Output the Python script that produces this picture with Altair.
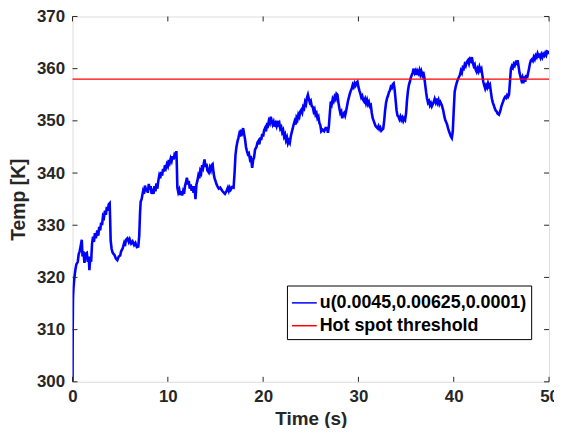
import altair as alt
import pandas as pd

# (time s, temperature K), split by decade
SEG_00_10 = [
    (0, 300), (0.02, 310), (0.05, 316), (0.1, 318), (0.2, 320), (0.3, 321.5), (0.4, 322.5),
    (0.55, 323), (0.65, 324.5), (0.75, 325), (0.85, 326), (0.97, 327.2), (1.05, 324), (1.15, 325),
    (1.25, 322.8), (1.35, 324.5), (1.5, 324.7), (1.6, 323), (1.7, 324), (1.77, 321.4), (1.85, 323.5),
    (1.95, 323), (2.05, 326.5), (2.15, 327.8), (2.25, 326.8), (2.35, 328.5), (2.45, 327.5), (2.6, 329),
    (2.7, 328), (2.8, 329.7), (2.9, 329), (3.0, 330.5), (3.1, 330), (3.2, 331.8), (3.3, 331.5),
    (3.4, 332.8), (3.5, 332), (3.6, 333.5), (3.7, 332.8), (3.8, 334), (3.9, 334.2), (3.95, 331),
    (4.0, 327.1), (4.1, 325.5), (4.2, 324.8), (4.3, 324.5), (4.4, 324.3), (4.55, 323.6), (4.7, 323.3),
    (4.85, 324), (5.0, 324.2), (5.1, 325), (5.25, 325.5), (5.4, 326.5), (5.5, 326), (5.6, 327.2),
    (5.76, 327.5), (5.9, 326.8), (6.0, 327.3), (6.15, 326.5), (6.3, 326.9), (6.46, 326.2), (6.6, 326.6),
    (6.75, 325.8), (6.9, 325.9), (7.0, 328), (7.08, 332.2), (7.15, 334.5), (7.25, 335), (7.4, 336.5),
    (7.5, 336), (7.6, 337.6), (7.7, 336.5), (7.8, 337.2), (7.9, 336.2), (8.0, 337.9), (8.1, 336.8),
    (8.2, 337.5), (8.3, 336), (8.4, 337), (8.5, 336), (8.6, 337.5), (8.7, 336.5), (8.8, 338),
    (8.9, 337), (9.0, 338.5), (9.1, 339.5), (9.2, 339), (9.3, 340.2), (9.4, 339.5), (9.5, 340.8),
    (9.6, 340.3), (9.7, 341.5), (9.8, 341), (9.9, 341.7),
]
SEG_10_20 = [
    (10.0, 341.3), (10.1, 342.5), (10.2, 342), (10.3, 342.8), (10.4, 342.3), (10.5, 343.2),
    (10.6, 342.6), (10.7, 343.5), (10.8, 343.2), (10.9, 344.2), (10.95, 341), (11.0, 337.2),
    (11.1, 336.3), (11.2, 336.8), (11.3, 335.8), (11.4, 336.5), (11.5, 335.7), (11.6, 336.5),
    (11.7, 336), (11.8, 337.5), (11.9, 338.2), (12.0, 339.1), (12.1, 337.8), (12.2, 338.5),
    (12.3, 337), (12.4, 337.8), (12.5, 336.6), (12.6, 337.5), (12.7, 336.2), (12.8, 337.5),
    (12.9, 335), (13.0, 337.8), (13.1, 338.5), (13.2, 339.5), (13.3, 339), (13.4, 340.4),
    (13.5, 340), (13.6, 341.5), (13.7, 341), (13.85, 342.6), (13.95, 341.2), (14.05, 341.8),
    (14.15, 340.5), (14.3, 340.1), (14.4, 341), (14.5, 340.5), (14.6, 341.5), (14.7, 341.7),
    (14.8, 340), (14.9, 339), (15.0, 338.5), (15.1, 337.9), (15.2, 337.5), (15.35, 337),
    (15.5, 337.2), (15.7, 336.6), (15.85, 336.3), (16.0, 336), (16.15, 336.5), (16.3, 337.2),
    (16.4, 336.6), (16.5, 337.2), (16.6, 336.8), (16.75, 337.3), (16.9, 337.2), (17.0, 340),
    (17.1, 343.5), (17.2, 345), (17.3, 346), (17.4, 346.7), (17.5, 347.5), (17.6, 347),
    (17.7, 348.3), (17.8, 347.8), (17.9, 348.6), (18.0, 347.5), (18.1, 346.5), (18.2, 345),
    (18.3, 344.2), (18.4, 343.6), (18.5, 343.8), (18.6, 342.8), (18.7, 343.3), (18.85, 341.0),
    (18.95, 342.5), (19.05, 343), (19.15, 344.5), (19.3, 345), (19.4, 345.8), (19.5, 346.1),
    (19.6, 345.5), (19.7, 346.8), (19.8, 346.3), (19.9, 347.5),
]
SEG_20_30 = [
    (20.0, 347), (20.1, 348.2), (20.2, 348.6), (20.3, 348), (20.4, 349.2), (20.5, 349),
    (20.6, 350), (20.7, 349.6), (20.8, 350.8), (20.9, 350), (21.0, 349.3), (21.1, 349.8),
    (21.2, 348.9), (21.3, 349.5), (21.4, 349), (21.5, 350), (21.6, 349.3), (21.7, 349.6),
    (21.8, 348.5), (21.9, 348.8), (22.0, 347.8), (22.1, 348.2), (22.2, 347), (22.3, 347.4),
    (22.4, 346.3), (22.5, 346.8), (22.6, 345.7), (22.7, 346.2), (22.8, 345.8), (22.9, 347),
    (23.0, 347.8), (23.1, 348.5), (23.2, 349.3), (23.3, 349.9), (23.4, 349.3), (23.5, 350.6),
    (23.6, 350.2), (23.7, 351.2), (23.8, 350.8), (23.9, 351.8), (24.0, 352.1), (24.1, 351.6),
    (24.2, 352.7), (24.3, 352.4), (24.4, 353.6), (24.5, 353.2), (24.6, 354.4), (24.7, 355),
    (24.8, 354.2), (24.9, 353.5), (25.0, 353.8), (25.1, 352.8), (25.2, 352.7), (25.3, 351.8),
    (25.4, 352.2), (25.5, 351.2), (25.6, 351.5), (25.7, 350.5), (25.8, 350.8), (25.9, 349.6),
    (26.0, 349.2), (26.1, 348), (26.25, 348.3), (26.4, 348), (26.55, 348.6), (26.7, 348.6),
    (26.8, 347.7), (26.9, 349), (27.0, 351.5), (27.1, 353.7), (27.2, 353.2), (27.3, 354.2),
    (27.4, 353.8), (27.5, 354.6), (27.6, 354.2), (27.7, 355.2), (27.8, 355), (27.9, 353.5),
    (28.0, 352.4), (28.1, 351.5), (28.2, 351.8), (28.3, 350.5), (28.4, 351.2), (28.5, 351.5),
    (28.6, 351), (28.7, 351.8), (28.8, 352.8), (28.9, 353.8), (29.0, 354.5), (29.1, 355.2),
    (29.2, 355.8), (29.3, 356.2), (29.4, 356.9), (29.5, 356.5), (29.6, 357.2), (29.7, 356.8),
    (29.8, 357.3), (29.9, 357.5),
]
SEG_30_40 = [
    (30.0, 356.5), (30.1, 355.8), (30.2, 355.2), (30.3, 354.5), (30.4, 354.8), (30.5, 354),
    (30.6, 353.7), (30.7, 354.2), (30.8, 353.4), (30.9, 354), (31.0, 353.2), (31.1, 353.6),
    (31.2, 352.8), (31.3, 353), (31.4, 351.5), (31.5, 350.5), (31.6, 350), (31.7, 349.5),
    (31.8, 349), (31.9, 348.8), (32.0, 348.6), (32.1, 349), (32.2, 348.4), (32.3, 348.7),
    (32.4, 348.1), (32.5, 348.3), (32.6, 348.5), (32.7, 350), (32.8, 352), (32.9, 353.5),
    (33.0, 354.3), (33.1, 354.8), (33.2, 355.5), (33.3, 355.8), (33.4, 356.5), (33.5, 356.3),
    (33.6, 357), (33.7, 357.2), (33.8, 356), (33.9, 354), (34.0, 352), (34.1, 351),
    (34.2, 350.8), (34.3, 350.3), (34.4, 350.8), (34.5, 350.2), (34.6, 350.6), (34.7, 350),
    (34.8, 350.5), (34.9, 350.2), (35.0, 351.5), (35.1, 354), (35.2, 355.8), (35.3, 356.9),
    (35.4, 357.5), (35.5, 358.3), (35.6, 358.8), (35.7, 359.3), (35.8, 360), (35.9, 359.2),
    (36.0, 359.6), (36.1, 358.8), (36.2, 359.5), (36.3, 359.1), (36.4, 359.7), (36.5, 358.9),
    (36.6, 359.5), (36.7, 358.8), (36.8, 359.4), (36.9, 358.5), (37.0, 357), (37.1, 355.5),
    (37.2, 354.3), (37.3, 353.5), (37.4, 353.8), (37.5, 353), (37.6, 353.4), (37.7, 352.8),
    (37.8, 353.2), (37.9, 353.6), (38.0, 354.2), (38.1, 353.6), (38.2, 354.3), (38.3, 353.5),
    (38.4, 354), (38.5, 353.2), (38.6, 353.6), (38.75, 353), (38.9, 352), (39.0, 351),
    (39.1, 350.2), (39.2, 349.8), (39.3, 349.3), (39.4, 348.6), (39.5, 348), (39.6, 347.5),
    (39.7, 347), (39.8, 346.7), (39.9, 348),
]
SEG_40_50 = [
    (40.0, 352), (40.1, 355.6), (40.2, 356.5), (40.3, 357.2), (40.4, 357.8), (40.5, 358.2),
    (40.65, 358.8), (40.75, 359.6), (40.85, 359.2), (40.95, 360.2), (41.05, 360), (41.15, 360.8),
    (41.25, 360.5), (41.35, 361.2), (41.5, 361.6), (41.6, 361), (41.7, 361.8), (41.8, 361.5),
    (41.9, 362.2), (42.0, 361.2), (42.1, 360.5), (42.2, 360.8), (42.3, 359.8), (42.4, 359.4),
    (42.5, 360), (42.6, 359.5), (42.7, 360.3), (42.8, 359.7), (42.9, 360), (43.0, 358.8),
    (43.1, 357.5), (43.2, 356.8), (43.3, 356.2), (43.4, 356.8), (43.5, 356.4), (43.6, 357.2),
    (43.7, 356.6), (43.8, 356.9), (43.9, 355.5), (44.0, 354.3), (44.1, 353.5), (44.2, 353),
    (44.3, 352.4), (44.4, 352), (44.5, 351.8), (44.6, 351.4), (44.75, 351.2), (44.9, 352),
    (45.0, 352.8), (45.1, 353.3), (45.2, 353.8), (45.3, 354.3), (45.4, 354.6), (45.5, 354.4),
    (45.6, 354.9), (45.7, 354.6), (45.8, 355), (45.9, 357.5), (46.0, 360), (46.1, 360.5),
    (46.2, 360.2), (46.3, 360.9), (46.4, 360.6), (46.5, 361.2), (46.6, 361), (46.7, 361.6),
    (46.8, 360.5), (46.9, 359.2), (47.0, 358.5), (47.1, 357.8), (47.2, 358.3), (47.3, 357.2),
    (47.4, 358.5), (47.5, 357.5), (47.6, 358.8), (47.7, 358.2), (47.8, 359.1), (47.9, 360),
    (48.0, 361), (48.1, 361.6), (48.2, 361.8), (48.3, 361.5), (48.4, 362.2), (48.5, 361.8),
    (48.6, 362.5), (48.7, 362.2), (48.8, 362.9), (48.9, 362.4), (49.0, 362.6), (49.1, 362.1),
    (49.2, 362.7), (49.3, 362.2), (49.4, 362.8), (49.5, 362.5), (49.6, 363), (49.7, 362.6),
    (49.8, 363.3), (49.9, 363.2), (50.0, 362.8),
]

SERIES_NAMES = ["u(0.0045,0.00625,0.0001)", "Hot spot threshold"]
SERIES_COLORS = ["#0000FF", "#FF0000"]
THRESHOLD = [358]
X_TICKS = [0, 10, 20, 30, 40, 50]
Y_TICKS = [300, 310, 320, 330, 340, 350, 360, 370]

points = SEG_00_10 + SEG_10_20 + SEG_20_30 + SEG_30_40 + SEG_40_50
line_df = pd.DataFrame(points, columns=["t", "temp"])
line_df["series"] = SERIES_NAMES[0]
line_df["order"] = range(len(line_df))
thr_df = pd.DataFrame({"temp": THRESHOLD, "series": [SERIES_NAMES[1]]})
xt_df = pd.DataFrame({"t": X_TICKS})
yt_df = pd.DataFrame({"temp": Y_TICKS})

FONT = "Liberation Sans"
TXT = "#262626"

xscale = alt.Scale(domain=[0, 50], nice=False, zero=False)
yscale = alt.Scale(domain=[300, 370], nice=False, zero=False)
color = alt.Color(
    "series:N",
    scale=alt.Scale(domain=SERIES_NAMES, range=SERIES_COLORS),
    sort=SERIES_NAMES,
    legend=alt.Legend(
        title=None, orient="none", legendX=216, legendY=271,
        symbolType="stroke", symbolSize=625, symbolStrokeWidth=1.5,
        labelFont=FONT, labelFontWeight="bold", labelFontSize=18, labelColor="#000000",
        fillColor="white", strokeColor="#000000", padding=4, rowPadding=-3,
        labelOffset=2, labelLimit=400, symbolOffset=0,
    ),
)

xaxis = alt.Axis(
    values=X_TICKS, title="Time (s)", ticks=False, domain=False, grid=False,
    labelFont=FONT, labelFontWeight="bold", labelFontSize=17, labelColor=TXT, labelPadding=7,
    titleFont=FONT, titleFontWeight="bold", titleFontSize=19, titleColor=TXT, titlePadding=5,
    labelFlush=False,
)
yaxis = alt.Axis(
    values=Y_TICKS, title="Temp [K]", ticks=False, domain=False, grid=False,
    labelFont=FONT, labelFontWeight="bold", labelFontSize=17, labelColor=TXT, labelPadding=8,
    titleFont=FONT, titleFontWeight="bold", titleFontSize=19.5, titleColor=TXT, titlePadding=8,
    labelFlush=False,
)

line = alt.Chart(line_df).mark_line(strokeWidth=2.6, clip=True).encode(
    x=alt.X("t:Q", scale=xscale, axis=xaxis),
    y=alt.Y("temp:Q", scale=yscale, axis=yaxis),
    order="order:Q",
    color=color,
)
thr = alt.Chart(thr_df).mark_rule(strokeWidth=1.3).encode(
    y=alt.Y("temp:Q", scale=yscale),
    color=color,
)

tick_style = dict(color=TXT, strokeWidth=1)
xt_bottom = alt.Chart(xt_df).mark_rule(**tick_style).encode(
    x=alt.X("t:Q", scale=xscale), y=alt.value(368), y2=alt.value(363))
xt_top = alt.Chart(xt_df).mark_rule(**tick_style).encode(
    x=alt.X("t:Q", scale=xscale), y=alt.value(0), y2=alt.value(5))
yt_left = alt.Chart(yt_df).mark_rule(**tick_style).encode(
    y=alt.Y("temp:Q", scale=yscale), x=alt.value(0), x2=alt.value(5))
yt_right = alt.Chart(yt_df).mark_rule(**tick_style).encode(
    y=alt.Y("temp:Q", scale=yscale), x=alt.value(480), x2=alt.value(475))

chart = alt.layer(line, thr, xt_bottom, xt_top, yt_left, yt_right).properties(
    width=480, height=368,
    autosize=alt.AutoSizeParams(type="none"),
    padding={"left": 65, "top": 7, "right": 5, "bottom": 45},
).configure_view(
    stroke=TXT, strokeWidth=1.3
).configure(background="white")

chart.save("out.html", embed_options={"renderer": "svg", "actions": False})
